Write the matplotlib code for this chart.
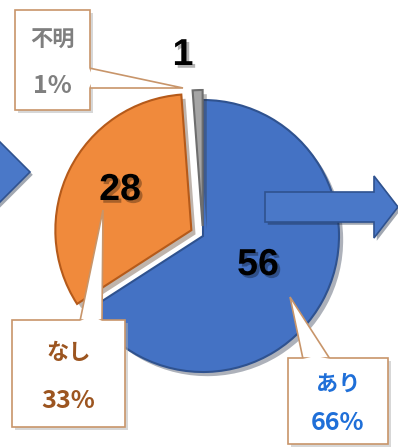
import matplotlib
matplotlib.use("Agg")
import matplotlib.pyplot as plt
import matplotlib.patheffects as pe
from matplotlib.patches import Rectangle, Polygon, FancyArrow

# data
labels = ["あり", "なし", "不明"]
counts = [56, 28, 1]
percents = ["66%", "33%", "1%"]
colors = ["#4472C4", "#F08A3C", "#A5A5A5"]
edges = ["#2F528F", "#B55A1A", "#6E6E6E"]
text_colors = ["#1F6FD8", "#9C5520", "#7F7F7F"]

W, H = 398, 447
fig = plt.figure(figsize=(W / 100, H / 100), dpi=100)
ax = fig.add_axes([0, 0, 1, 1])

def Y(y):
    # image y (top-down) -> axis y
    return H - y

# explode is in data units here (axes are in pixels)
wedges, _ = ax.pie(counts, colors=colors, startangle=90, counterclock=False,
                   explode=[0, 13, 10], center=(203, Y(236)), radius=136,
                   wedgeprops=dict(linewidth=1.5), frame=True)
for w, ec in zip(wedges, edges):
    w.set_edgecolor(ec)
    w.set_zorder(2)
    w.set_path_effects([pe.SimplePatchShadow(offset=(3, -3), alpha=0.35), pe.Normal()])

# arrows (right one sits on top of the pie)
arr_kw = dict(length_includes_head=True, facecolor="#4A78C8", edgecolor="#2F528F",
              linewidth=1.2, zorder=4,
              path_effects=[pe.SimplePatchShadow(offset=(2, -2), alpha=0.4), pe.Normal()])
ax.add_patch(FancyArrow(265, Y(207), 133, 0, width=30, head_width=62,
                        head_length=24, **arr_kw))
ax.add_patch(FancyArrow(-60, Y(172), 90, 0, width=30, head_width=72,
                        head_length=36, **arr_kw))

# value labels
value_pos = [(258, 265), (120, 190), (183, 55)]
for (x, y), c in zip(value_pos, counts):
    ax.text(x, Y(y), str(c), ha="center", va="center", fontsize=27,
            fontweight="bold", family="Liberation Sans", color="black", zorder=6,
            path_effects=[pe.withSimplePatchShadow(offset=(2, -2), alpha=0.3)])

# callouts: box (x0, y0, x1, y1) and pointer triangle in image coords
boxes = [(288, 358, 388, 444), (12, 320, 125, 427), (15, 10, 90, 110)]
pointers = [[(303, 359), (330, 359), (290, 297)],
            [(80, 321), (102, 321), (103, 210)],
            [(89, 68), (89, 88), (183, 88)]]
jp = ["Noto Sans CJK JP", "DejaVu Sans"]
for i, ((x0, y0, x1, y1), tri) in enumerate(zip(boxes, pointers)):
    ax.add_patch(Rectangle((x0 + 3, Y(y1) - 3), x1 - x0, y1 - y0,
                           facecolor="#B0B0B0", edgecolor="none", alpha=0.5, zorder=7))
    ax.add_patch(Polygon([(px, Y(py)) for px, py in tri], closed=True,
                         facecolor="white", edgecolor="#C8956A", linewidth=1.2, zorder=7))
    ax.add_patch(Rectangle((x0, Y(y1)), x1 - x0, y1 - y0,
                           facecolor="white", edgecolor="#C8956A", linewidth=1.2, zorder=8))
    # cover the joint between box and pointer
    mx = (tri[0][0] + tri[1][0]) / 2
    my = (tri[0][1] + tri[1][1]) / 2
    ax.add_patch(Polygon([(px, Y(py)) for px, py in tri[:2]] +
                         [(mx + (tri[2][0] - mx) * 0.05, Y(my + (tri[2][1] - my) * 0.05))],
                         closed=True, facecolor="white", edgecolor="none", zorder=9))
    cx = (x0 + x1) / 2
    h = y1 - y0
    ax.text(cx, Y(y0 + h * 0.30), labels[i], ha="center", va="center", fontsize=16,
            fontweight="bold", family=jp, color=text_colors[i], zorder=10)
    ax.text(cx, Y(y0 + h * 0.76), percents[i], ha="center", va="center", fontsize=18,
            fontweight="bold", family=jp, color=text_colors[i], zorder=10)

ax.set_xlim(0, W)
ax.set_ylim(0, H)
ax.set_aspect("auto")
ax.axis("off")

fig.savefig("out.png", dpi=100, facecolor="white")
